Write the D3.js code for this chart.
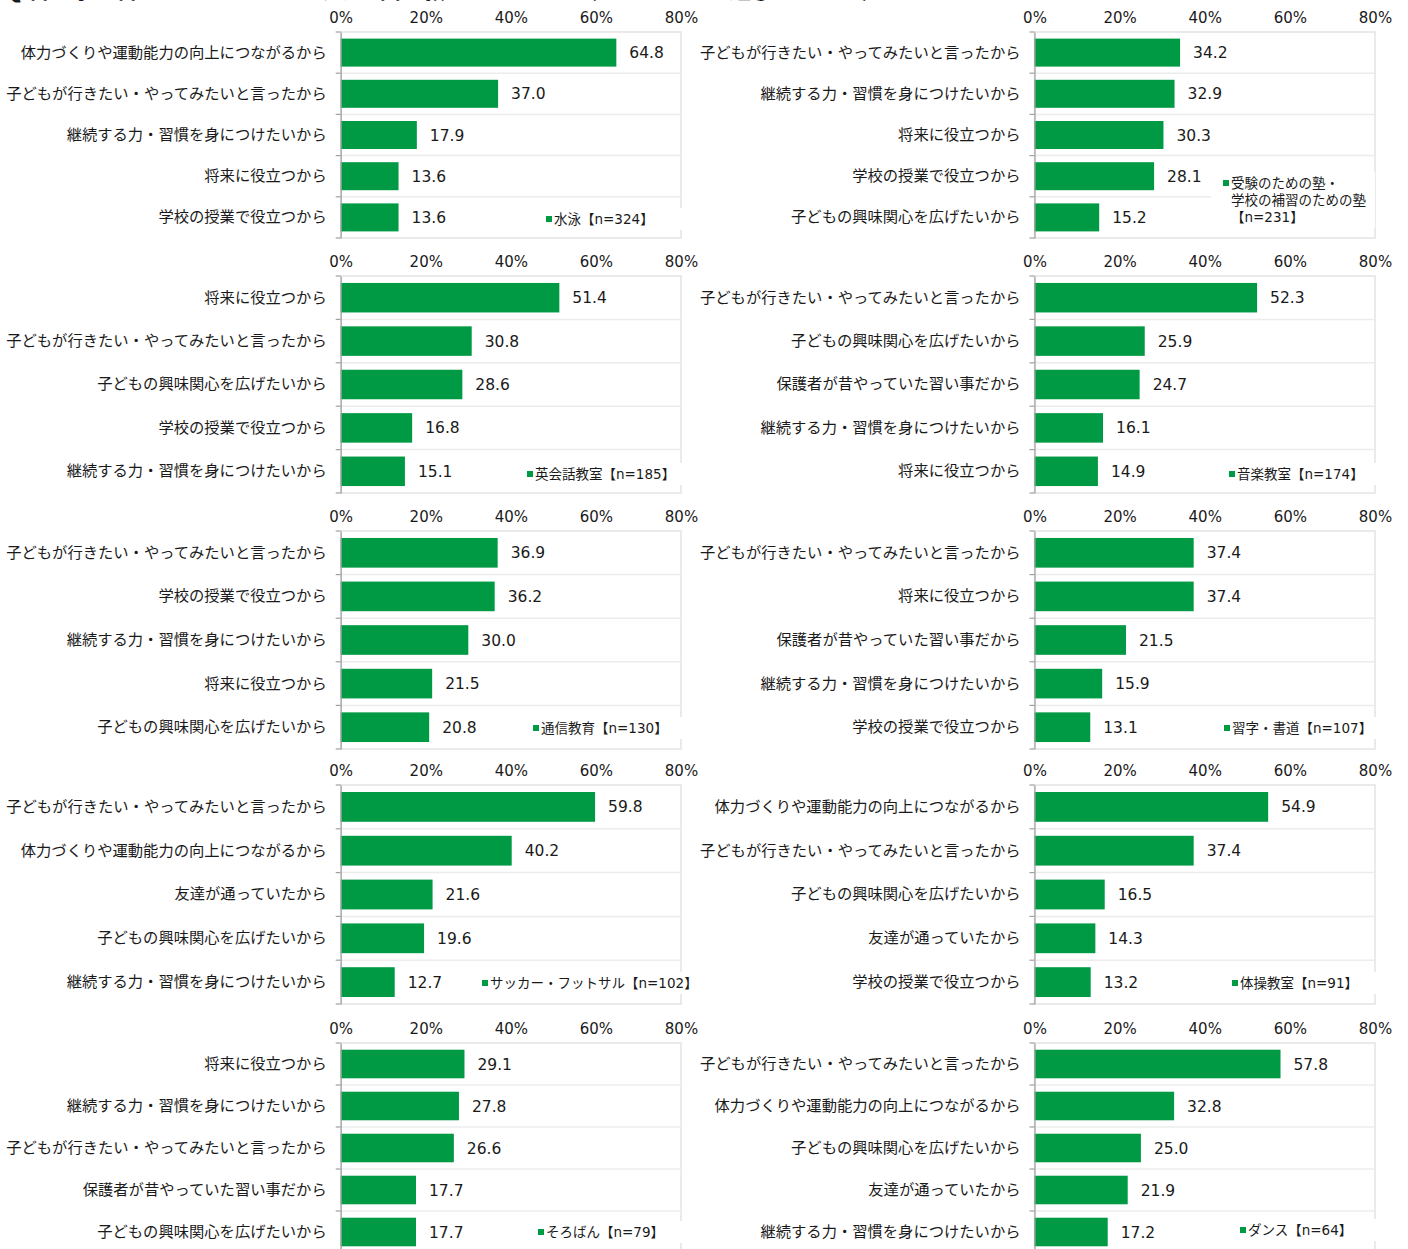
<!DOCTYPE html>
<html>
<head>
<meta charset="utf-8">
<script src="https://cdn.jsdelivr.net/npm/d3@7"></script>
<style>
  body { margin: 0; background: #fff; }
  text { font-family: "DejaVu Sans", "Noto Sans CJK JP", sans-serif; fill: #1a1a1a; }
</style>
</head>
<body>
<svg id="chart" width="1408" height="1249"></svg>
<script>
// 習い事ごとのきっかけ・理由（上位5項目、%）
const panelNames = [
  "水泳",
  "受験のための塾・\n学校の補習のための塾\n",
  "英会話教室",
  "音楽教室",
  "通信教育",
  "習字・書道",
  "サッカー・フットサル",
  "体操教室",
  "そろばん",
  "ダンス"
];
const panelN = [324, 231, 185, 174, 130, 107, 102, 91, 79, 64];

const panelReasons = [
  ["体力づくりや運動能力の向上につながるから", "子どもが行きたい・やってみたいと言ったから", "継続する力・習慣を身につけたいから", "将来に役立つから", "学校の授業で役立つから"],
  ["子どもが行きたい・やってみたいと言ったから", "継続する力・習慣を身につけたいから", "将来に役立つから", "学校の授業で役立つから", "子どもの興味関心を広げたいから"],
  ["将来に役立つから", "子どもが行きたい・やってみたいと言ったから", "子どもの興味関心を広げたいから", "学校の授業で役立つから", "継続する力・習慣を身につけたいから"],
  ["子どもが行きたい・やってみたいと言ったから", "子どもの興味関心を広げたいから", "保護者が昔やっていた習い事だから", "継続する力・習慣を身につけたいから", "将来に役立つから"],
  ["子どもが行きたい・やってみたいと言ったから", "学校の授業で役立つから", "継続する力・習慣を身につけたいから", "将来に役立つから", "子どもの興味関心を広げたいから"],
  ["子どもが行きたい・やってみたいと言ったから", "将来に役立つから", "保護者が昔やっていた習い事だから", "継続する力・習慣を身につけたいから", "学校の授業で役立つから"],
  ["子どもが行きたい・やってみたいと言ったから", "体力づくりや運動能力の向上につながるから", "友達が通っていたから", "子どもの興味関心を広げたいから", "継続する力・習慣を身につけたいから"],
  ["体力づくりや運動能力の向上につながるから", "子どもが行きたい・やってみたいと言ったから", "子どもの興味関心を広げたいから", "友達が通っていたから", "学校の授業で役立つから"],
  ["将来に役立つから", "継続する力・習慣を身につけたいから", "子どもが行きたい・やってみたいと言ったから", "保護者が昔やっていた習い事だから", "子どもの興味関心を広げたいから"],
  ["子どもが行きたい・やってみたいと言ったから", "体力づくりや運動能力の向上につながるから", "子どもの興味関心を広げたいから", "友達が通っていたから", "継続する力・習慣を身につけたいから"]
];

const panelValues = [
  [64.8, 37.0, 17.9, 13.6, 13.6],
  [34.2, 32.9, 30.3, 28.1, 15.2],
  [51.4, 30.8, 28.6, 16.8, 15.1],
  [52.3, 25.9, 24.7, 16.1, 14.9],
  [36.9, 36.2, 30.0, 21.5, 20.8],
  [37.4, 37.4, 21.5, 15.9, 13.1],
  [59.8, 40.2, 21.6, 19.6, 12.7],
  [54.9, 37.4, 16.5, 14.3, 13.2],
  [29.1, 27.8, 26.6, 17.7, 17.7],
  [57.8, 32.8, 25.0, 21.9, 17.2]
];

const tickValues = [0, 20, 40, 60, 80];
const titleText = "Q.習い事を習わせているきっかけや理由を教えてください（いくつでもお選びください）";

// レイアウト（行ごとの枠の上下、列ごとの横位置）
const rowTops = [32, 276, 531, 785, 1043];
const rowBottoms = [238, 493, 749, 1004, 1253];
const colLeft = [340.7, 1034.5];
const colRight = [681, 1375];
// 凡例の位置（■の左端, 1行目の中心y）
const legendPos = [
  [546, 219], [1223, 183],
  [527, 474], [1229, 474],
  [533, 728], [1224, 728],
  [482, 983], [1232, 983],
  [538, 1232], [1240, 1230]
];

const green = "#009a44";
const svg = d3.select("#chart");

svg.append("rect").attr("width", 1408).attr("height", 1249).attr("fill", "#fff");

// タイトル（上端で切れている）
svg.append("text")
  .attr("x", 4)
  .attr("y", -2.5)
  .style("font-family", "'Noto Sans CJK JP', sans-serif")
  .style("font-size", "22px")
  .style("font-weight", "bold")
  .text(titleText);

panelNames.forEach((name, i) => {
  const row = Math.floor(i / 2);
  const col = i % 2;
  const top = rowTops[row];
  const bottom = rowBottoms[row];
  const left = colLeft[col];
  const right = colRight[col];

  const x = d3.scaleLinear().domain([0, 80]).range([left, right]);
  const y = d3.scaleBand()
    .domain(panelReasons[i])
    .range([top, bottom])
    .paddingInner(0.32)
    .paddingOuter(0.16);

  const g = svg.append("g");

  // 枠
  g.append("rect")
    .attr("x", left)
    .attr("y", top)
    .attr("width", right - left)
    .attr("height", bottom - top)
    .attr("fill", "#fff")
    .attr("stroke", "#e4e4e4")
    .attr("stroke-width", 1.5);

  // 区切り線と目盛り（カテゴリ境界）
  const bounds = d3.range(panelReasons[i].length + 1).map((k) => top + k * y.step());
  g.selectAll(".grid")
    .data(bounds.slice(1, -1))
    .join("line")
    .attr("x1", left)
    .attr("x2", right)
    .attr("y1", (d) => d)
    .attr("y2", (d) => d)
    .attr("stroke", "#ececec")
    .attr("stroke-width", 1.5);

  g.selectAll(".btick")
    .data(bounds)
    .join("line")
    .attr("x1", left - 5)
    .attr("x2", left)
    .attr("y1", (d) => d)
    .attr("y2", (d) => d)
    .attr("stroke", "#a0a0a0")
    .attr("stroke-width", 1.2);

  // 棒
  g.selectAll(".bar")
    .data(panelValues[i])
    .join("rect")
    .attr("x", x(0))
    .attr("y", (d, k) => y(panelReasons[i][k]))
    .attr("width", (d) => x(d) - x(0))
    .attr("height", y.bandwidth())
    .attr("fill", green);

  // 数値ラベル
  g.selectAll(".val")
    .data(panelValues[i])
    .join("text")
    .attr("x", (d) => x(d) + 13)
    .attr("y", (d, k) => y(panelReasons[i][k]) + y.bandwidth() / 2)
    .attr("dy", "0.36em")
    .style("font-size", "15.5px")
    .text((d) => d.toFixed(1));

  // y軸
  const yAxis = d3.axisLeft(y).tickSize(0).tickPadding(14);
  const ya = g.append("g")
    .attr("transform", `translate(${left},0)`)
    .call(yAxis);
  ya.select(".domain").attr("stroke", "#a0a0a0").attr("stroke-width", 1.2);
  ya.selectAll("text")
    .style("font-size", "15.3px")
    .style("font-family", "'Noto Sans CJK JP', sans-serif")
    .attr("fill", "#1a1a1a");

  // x軸（上）
  const xAxis = d3.axisTop(x)
    .tickValues(tickValues)
    .tickFormat((d) => d + "%")
    .tickSize(0)
    .tickPadding(9);
  const xa = g.append("g")
    .attr("transform", `translate(0,${top})`)
    .call(xAxis);
  xa.select(".domain").remove();
  xa.selectAll("text")
    .style("font-size", "15px")
    .style("font-family", "'DejaVu Sans', sans-serif")
    .attr("fill", "#1a1a1a");

  // 凡例
  const lines = (name + "【n=" + panelN[i] + "】").split("\n");
  const [lx, ly] = legendPos[i];
  const lh = 17;
  const lg = g.append("g");
  const textW = d3.max(lines, (s) => s.length) * 14;
  lg.append("rect")
    .attr("x", lx - 12)
    .attr("y", ly - 11)
    .attr("width", textW + 24)
    .attr("height", lines.length * lh + 5)
    .attr("fill", "#fff");
  lg.append("rect")
    .attr("x", lx)
    .attr("y", ly - 3)
    .attr("width", 6)
    .attr("height", 6)
    .attr("fill", green);
  lg.selectAll("text")
    .data(lines)
    .join("text")
    .attr("x", lx + 8)
    .attr("y", (d, k) => ly + k * lh)
    .attr("dy", "0.35em")
    .style("font-size", "13.5px")
    .text((d) => d);
});
</script>
</body>
</html>
